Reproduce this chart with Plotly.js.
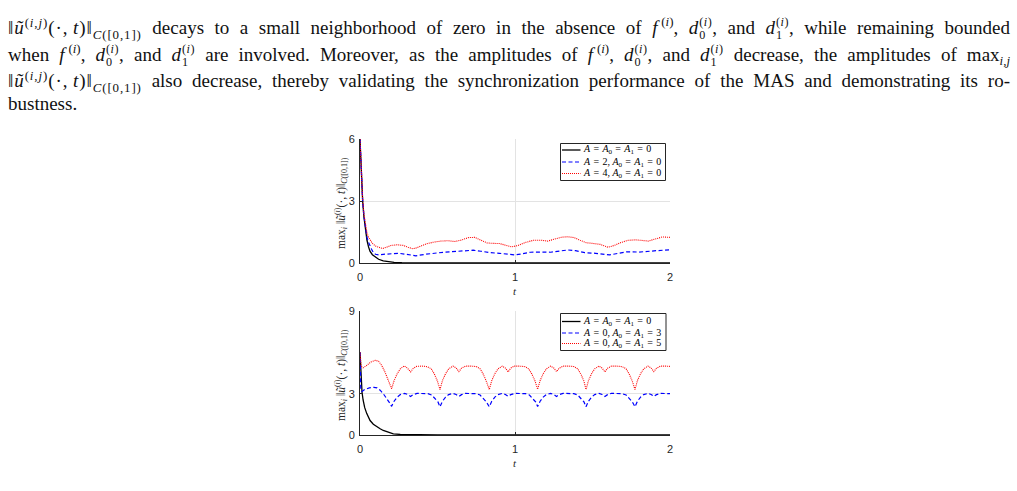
<!DOCTYPE html>
<html>
<head>
<meta charset="utf-8">
<script src="https://cdn.plot.ly/plotly-3.0.1.min.js"></script>
<style>
  html, body { margin:0; padding:0; background:#fff; width:1017px; height:491px; overflow:hidden; }
  #chart { position:absolute; left:0; top:0; width:1017px; height:491px; }
  .ln { position:absolute; left:8px; width:1002px; font-family:"Liberation Serif","Times New Roman",serif;
        font-size:19px; line-height:19px; color:#111; white-space:nowrap; z-index:5; }
  .j { text-align:justify; text-align-last:justify; white-space:normal; }
  .ln sup, .ln sub { font-size:0.68em; line-height:0; }
  .m { letter-spacing:0.9px; }
  .ss { display:inline-block; vertical-align:-0.45em; line-height:1.08; font-size:0.64em; text-align:left; margin-left:1px; letter-spacing:0.5px; }
  .ss span { display:block; }
</style>
</head>
<body>
<div id="chart"></div>
<div class="ln j" style="top:16px"><span class="m">‖<i>ũ</i><sup>(<i>i</i>,<i>j</i>)</sup>(·,&#8201;<i>t</i>)‖<sub><i>C</i>([0,1])</sub></span> decays to a small neighborhood of zero in the absence of <i>f</i>&#8201;<sup>(<i>i</i>)</sup>, <i>d</i><span class="ss"><span>(<i>i</i>)</span><span>0</span></span>, and <i>d</i><span class="ss"><span>(<i>i</i>)</span><span>1</span></span>, while remaining bounded</div>
<div class="ln j" style="top:43px">when <i>f</i>&#8201;<sup>(<i>i</i>)</sup>, <i>d</i><span class="ss"><span>(<i>i</i>)</span><span>0</span></span>, and <i>d</i><span class="ss"><span>(<i>i</i>)</span><span>1</span></span> are involved. Moreover, as the amplitudes of <i>f</i>&#8201;<sup>(<i>i</i>)</sup>, <i>d</i><span class="ss"><span>(<i>i</i>)</span><span>0</span></span>, and <i>d</i><span class="ss"><span>(<i>i</i>)</span><span>1</span></span> decrease, the amplitudes of max<sub><i>i</i>,<i>j</i></sub></div>
<div class="ln j" style="top:71px"><span class="m">‖<i>ũ</i><sup>(<i>i</i>,<i>j</i>)</sup>(·,&#8201;<i>t</i>)‖<sub><i>C</i>([0,1])</sub></span> also decrease, thereby validating the synchronization performance of the MAS and demonstrating its ro-</div>
<div class="ln" style="top:94px">bustness.</div>
<script>
// ---------- data ----------
const xTicks = [0, 1, 2];
const yTicksTop = [0, 3, 6];
const yTicksBottom = [0, 3, 9];

const legendTop = [
  "<i>A</i> = <i>A</i><sub>0</sub> = <i>A</i><sub>1</sub> = 0",
  "<i>A</i> = 2, <i>A</i><sub>0</sub> = <i>A</i><sub>1</sub> = 0",
  "<i>A</i> = 4, <i>A</i><sub>0</sub> = <i>A</i><sub>1</sub> = 0"
];
const legendBottom = [
  "<i>A</i> = <i>A</i><sub>0</sub> = <i>A</i><sub>1</sub> = 0",
  "<i>A</i> = 0, <i>A</i><sub>0</sub> = <i>A</i><sub>1</sub> = 3",
  "<i>A</i> = 0, <i>A</i><sub>0</sub> = <i>A</i><sub>1</sub> = 5"
];

// top panel
const tTopBlack = [0, 0.005, 0.01, 0.017, 0.025, 0.035, 0.045, 0.055, 0.065, 0.08, 0.1, 0.12, 0.15, 0.18, 0.22, 0.27, 0.33, 0.4, 0.5, 0.7, 1.0, 1.5, 2.0];
const yTopBlack = [6, 4.9, 4.0, 3.0, 2.25, 1.55, 1.1, 0.78, 0.56, 0.4, 0.27, 0.18, 0.1, 0.06, 0.03, 0.015, 0.008, 0.004, 0.002, 0.001, 0, 0, 0];

const tTopBlue = [0, 0.005, 0.01, 0.017, 0.025, 0.035, 0.045, 0.055, 0.065, 0.08, 0.1, 0.12, 0.15, 0.2, 0.25, 0.3, 0.36, 0.42, 0.48, 0.55, 0.62, 0.68, 0.73, 0.78, 0.84, 0.9, 0.95, 1.0, 1.05, 1.1, 1.17, 1.23, 1.29, 1.34, 1.39, 1.45, 1.52, 1.57, 1.61, 1.66, 1.72, 1.8, 1.86, 1.92, 2.0];
const yTopBlue = [6, 4.95, 4.05, 3.05, 2.3, 1.65, 1.25, 1.0, 0.8, 0.58, 0.42, 0.39, 0.42, 0.46, 0.47, 0.42, 0.35, 0.42, 0.48, 0.53, 0.56, 0.6, 0.62, 0.57, 0.5, 0.47, 0.44, 0.39, 0.45, 0.52, 0.53, 0.52, 0.58, 0.63, 0.6, 0.5, 0.47, 0.44, 0.39, 0.46, 0.54, 0.53, 0.55, 0.6, 0.64];

const tTopRed = [0, 0.005, 0.01, 0.017, 0.025, 0.035, 0.045, 0.055, 0.065, 0.08, 0.1, 0.12, 0.145, 0.17, 0.2, 0.24, 0.28, 0.31, 0.34, 0.36, 0.39, 0.43, 0.47, 0.52, 0.57, 0.61, 0.65, 0.7, 0.74, 0.78, 0.82, 0.86, 0.9, 0.94, 0.98, 1.02, 1.07, 1.12, 1.17, 1.21, 1.25, 1.3, 1.34, 1.38, 1.42, 1.46, 1.5, 1.55, 1.6, 1.64, 1.68, 1.73, 1.78, 1.82, 1.86, 1.9, 1.95, 2.0];
const yTopRed = [6, 5.0, 4.1, 3.1, 2.4, 1.8, 1.45, 1.25, 1.12, 0.95, 0.82, 0.75, 0.7, 0.76, 0.85, 0.88, 0.85, 0.76, 0.69, 0.72, 0.82, 0.93, 1.0, 1.06, 1.08, 1.04, 1.1, 1.23, 1.24, 1.12, 0.97, 0.95, 0.94, 0.86, 0.78, 0.85, 1.0, 1.1, 1.1, 1.06, 1.13, 1.25, 1.27, 1.23, 1.1, 0.98, 0.95, 0.9, 0.76, 0.85, 0.98, 1.1, 1.12, 1.08, 1.06, 1.15, 1.26, 1.24];

// bottom panel
const tBotBlack = [0, 0.004, 0.008, 0.013, 0.02, 0.03, 0.043, 0.055, 0.065, 0.086, 0.11, 0.13, 0.15, 0.19, 0.215, 0.26, 0.32, 0.4, 0.5, 0.7, 1.0, 2.0];
const yBotBlack = [6, 4.7, 3.8, 3.1, 2.54, 2.0, 1.57, 1.25, 1.05, 0.78, 0.58, 0.45, 0.33, 0.15, 0.08, 0.04, 0.02, 0.01, 0.005, 0.002, 0, 0];

const tBotBlue = [0, 0.002, 0.005, 0.012, 0.03, 0.06, 0.09, 0.11, 0.13, 0.15, 0.17, 0.19, 0.204,
  0.22, 0.24, 0.26, 0.288, 0.308, 0.326, 0.343, 0.368, 0.403, 0.438, 0.463, 0.483, 0.503, 0.516,
  0.532, 0.552, 0.572, 0.6, 0.62, 0.638, 0.655, 0.68, 0.715, 0.75, 0.775, 0.795, 0.815, 0.834,
  0.85, 0.87, 0.89, 0.918, 0.938, 0.956, 0.973, 0.998, 1.033, 1.068, 1.093, 1.113, 1.133, 1.146,
  1.162, 1.182, 1.202, 1.23, 1.25, 1.268, 1.285, 1.31, 1.345, 1.38, 1.405, 1.425, 1.445, 1.458,
  1.474, 1.494, 1.514, 1.542, 1.562, 1.58, 1.597, 1.622, 1.657, 1.692, 1.717, 1.737, 1.757, 1.774,
  1.79, 1.81, 1.83, 1.858, 1.878, 1.896, 1.913, 1.94, 1.97, 2.0];
const yBotBlue = [6.0, 4.5, 3.3, 3.15, 3.3, 3.42, 3.46, 3.42, 3.25, 3.0, 2.7, 2.35, 2.08,
  2.45, 2.75, 2.93, 3.02, 2.94, 2.8, 2.93, 3.02, 3.02, 3.0, 2.9, 2.68, 2.4, 2.05,
  2.45, 2.75, 2.93, 3.02, 2.94, 2.8, 2.93, 3.02, 3.02, 3.0, 2.9, 2.68, 2.4, 2.05,
  2.45, 2.75, 2.93, 3.02, 2.94, 2.8, 2.93, 3.02, 3.02, 3.0, 2.9, 2.68, 2.4, 2.06,
  2.45, 2.75, 2.93, 3.02, 2.94, 2.8, 2.93, 3.02, 3.02, 3.0, 2.9, 2.68, 2.4, 2.05,
  2.45, 2.75, 2.93, 3.02, 2.94, 2.8, 2.93, 3.02, 3.02, 3.0, 2.9, 2.68, 2.4, 2.05,
  2.45, 2.75, 2.93, 3.02, 2.94, 2.8, 2.93, 3.02, 3.02, 3.0];

const tBotRed = [0, 0.003, 0.008, 0.02, 0.04, 0.07, 0.1, 0.12, 0.14, 0.16, 0.18, 0.195, 0.204,
  0.22, 0.24, 0.26, 0.285, 0.305, 0.327, 0.343, 0.365, 0.4, 0.435, 0.46, 0.48, 0.5, 0.516,
  0.532, 0.552, 0.572, 0.6, 0.62, 0.638, 0.655, 0.68, 0.715, 0.75, 0.775, 0.795, 0.815, 0.834,
  0.85, 0.87, 0.89, 0.918, 0.938, 0.956, 0.972, 0.995, 1.03, 1.065, 1.09, 1.11, 1.13, 1.146,
  1.162, 1.182, 1.202, 1.23, 1.25, 1.268, 1.285, 1.31, 1.345, 1.38, 1.405, 1.425, 1.445, 1.458,
  1.474, 1.494, 1.514, 1.542, 1.562, 1.58, 1.597, 1.622, 1.657, 1.692, 1.717, 1.737, 1.757, 1.774,
  1.79, 1.81, 1.83, 1.858, 1.878, 1.896, 1.913, 1.94, 1.97, 2.0];
const yBotRed = [6.0, 5.5, 5.0, 4.88, 5.02, 5.3, 5.42, 5.35, 5.05, 4.6, 4.05, 3.62, 3.36,
  3.95, 4.45, 4.8, 5.02, 4.86, 4.58, 4.84, 4.98, 5.0, 4.96, 4.8, 4.42, 3.9, 3.3,
  3.95, 4.45, 4.8, 5.0, 4.87, 4.6, 4.85, 5.0, 5.0, 4.97, 4.8, 4.42, 3.9, 3.3,
  3.95, 4.45, 4.8, 5.0, 4.86, 4.58, 4.85, 5.0, 5.0, 4.96, 4.78, 4.4, 3.9, 3.32,
  3.95, 4.45, 4.8, 5.0, 4.87, 4.6, 4.85, 5.0, 5.0, 4.97, 4.8, 4.42, 3.9, 3.3,
  3.95, 4.45, 4.8, 5.0, 4.86, 4.58, 4.85, 5.0, 5.0, 4.96, 4.8, 4.42, 3.9, 3.3,
  3.95, 4.45, 4.8, 5.0, 4.87, 4.6, 4.85, 5.0, 5.0, 4.98];

// ---------- layout helpers ----------
const W = 1017, H = 491;
const px = v => v / W;
const py = v => 1 - v / H;

const colors = ["#000000", "#0000ff", "#ff0000"];
const dashes = ["solid", "4px,2.5px", "1px,1px"];
const widths = [1.3, 1.2, 1.1];

const traces = [
  {x: tTopBlack, y: yTopBlack, xaxis: "x", yaxis: "y"},
  {x: tTopBlue, y: yTopBlue, xaxis: "x", yaxis: "y"},
  {x: tTopRed, y: yTopRed, xaxis: "x", yaxis: "y"},
  {x: tBotBlack, y: yBotBlack, xaxis: "x2", yaxis: "y2"},
  {x: tBotBlue, y: yBotBlue, xaxis: "x2", yaxis: "y2"},
  {x: tBotRed, y: yBotRed, xaxis: "x2", yaxis: "y2"}
].map((tr, k) => Object.assign(tr, {
  type: "scatter", mode: "lines", showlegend: false, hoverinfo: "skip",
  name: (k < 3 ? legendTop : legendBottom)[k % 3],
  line: {color: colors[k % 3], width: widths[k % 3], dash: dashes[k % 3]}
}));

const axColor = "#262626";
const tickFont = {family: "Liberation Sans, Arial, sans-serif", size: 11, color: axColor};
function xAxis(dom, anchor) {
  return {domain: dom, anchor: anchor, range: [0, 2], tickvals: xTicks, ticktext: xTicks.map(String),
    showgrid: true, gridcolor: "#e3e3e3", gridwidth: 1, zeroline: false, showline: true,
    linecolor: axColor, linewidth: 1, ticks: "inside", ticklen: 3, tickcolor: axColor,
    tickfont: tickFont, ticklabelstandoff: 4, fixedrange: true};
}
function yAxis(dom, anchor, rng, tv) {
  return {domain: dom, anchor: anchor, range: rng, tickvals: tv, ticktext: tv.map(String),
    showgrid: true, gridcolor: "#e3e3e3", gridwidth: 1, zeroline: false, showline: true,
    linecolor: axColor, linewidth: 1, ticks: "inside", ticklen: 3, tickcolor: axColor,
    tickfont: tickFont, ticklabelstandoff: 2, fixedrange: true};
}

const L = 360, R = 670;
const topY = [139, 263], botY = [311, 435];

const shapes = [];
const annotations = [];
const fmt = s => s.split(" = ").join("\u2004=\u2004").replace(", ", ",\u2005");

// custom legends
function addLegend(labels, box, rows) {
  shapes.push({type: "rect", xref: "paper", yref: "paper",
    x0: px(box[0]), x1: px(box[1]), y0: py(box[2]), y1: py(box[3]),
    line: {color: axColor, width: 1}, fillcolor: "#ffffff", layer: "above"});
  labels.forEach((lab, k) => {
    shapes.push({type: "line", xref: "paper", yref: "paper",
      x0: px(box[0] + 1.5), x1: px(box[0] + 20), y0: py(rows[k]), y1: py(rows[k]),
      line: {color: colors[k], width: widths[k], dash: dashes[k]}, layer: "above"});
    annotations.push({xref: "paper", yref: "paper", x: px(box[0] + 20.5), y: py(rows[k]),
      xanchor: "left", yanchor: "middle", showarrow: false, text: fmt(lab),
      font: {family: "Liberation Serif, Times New Roman, serif", size: 10, color: "#000"}});
  });
}
addLegend(legendTop, [560.5, 665.5, 143.5, 180.5], [150, 162, 173.5]);
addLegend(legendBottom, [560.5, 666, 313.5, 350.5], [321.5, 333, 343.5]);

// axis titles
const yTitle = "max<sub><i>i</i></sub>\u2005‖<i>ũ</i><sup>(<i>i</i>)</sup>(·,\u2005<i>t</i>)‖<sub><i>C</i>([0,1])</sub>";
[topY, botY].forEach(yy => {
  annotations.push({xref: "paper", yref: "paper", x: px(341), y: py((yy[0] + yy[1]) / 2 + 2),
    xanchor: "center", yanchor: "middle", showarrow: false, textangle: -90, text: yTitle,
    font: {family: "Liberation Serif, Times New Roman, serif", size: 11.5, color: axColor}});
  annotations.push({xref: "paper", yref: "paper", x: px((L + R) / 2), y: py(yy[1] + 28),
    xanchor: "center", yanchor: "middle", showarrow: false, text: "<i>t</i>",
    font: {family: "Liberation Serif, Times New Roman, serif", size: 11, color: axColor}});
});

const layout = {
  width: W, height: H, margin: {l: 0, r: 0, t: 0, b: 0},
  paper_bgcolor: "#ffffff", plot_bgcolor: "#ffffff", showlegend: false,
  xaxis: xAxis([px(L), px(R)], "y"),
  yaxis: yAxis([py(topY[1]), py(topY[0])], "x", [0, 6], yTicksTop),
  xaxis2: xAxis([px(L), px(R)], "y2"),
  yaxis2: yAxis([py(botY[1]), py(botY[0])], "x2", [0, 9], yTicksBottom),
  shapes: shapes, annotations: annotations
};

Plotly.newPlot("chart", traces, layout, {staticPlot: true, displayModeBar: false});
</script>
</body>
</html>
